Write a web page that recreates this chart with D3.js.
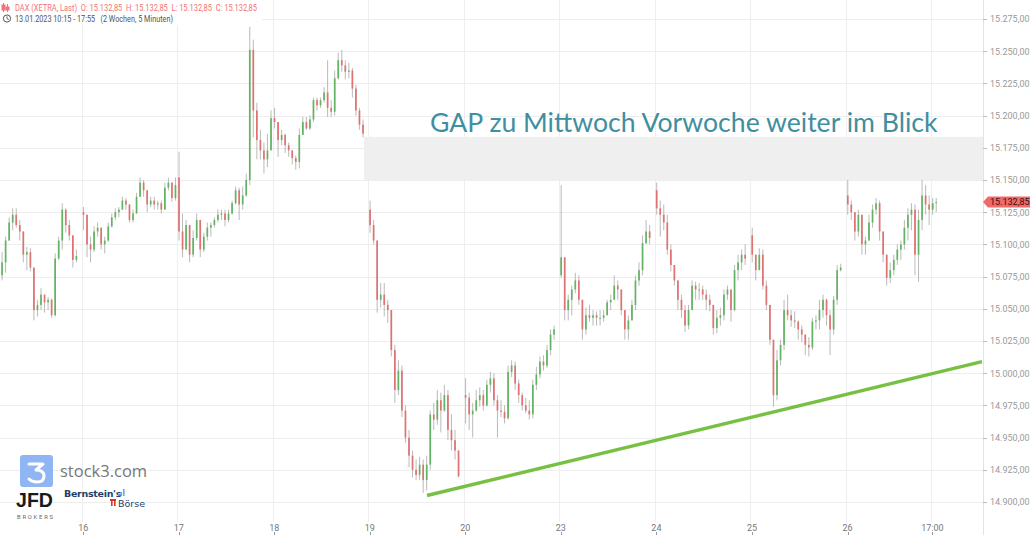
<!DOCTYPE html>
<html><head><meta charset="utf-8">
<script src="https://cdn.jsdelivr.net/npm/d3@7"></script>
<style>
html,body{margin:0;padding:0;background:#fff;overflow:hidden;}
svg{display:block;font-family:Roboto,"Liberation Sans",Arial,sans-serif;}
</style></head><body>
<svg id="c" width="1030" height="535"></svg>
<script>
// ---------- DATA (20-minute candles) ----------
const days = ["13","16","17","18","19","20","23","24","25","26"];
const firstSlot = [4,0,0,0,0,0,0,0,0,0];
const dayOpen = [15076,15125,15152,15198,15127,14983,15076,15142,15107,15138];
const highs = [
 [15094,15106,15121,15128,15128,15119,15103,15098,15097,15082,15057,15066,15061,15059,15058,15093,15106,15132,15128,15119,15107,15096],
 [15129,15123,15106,15114,15117,15113,15106,15117,15124,15128,15129,15137,15136,15131,15127,15140,15152,15150,15142,15137,15137,15134,15134,15148,15152,15148,15152],
 [15172,15124,15119,15115,15111,15124,15119,15109,15117,15117,15121,15127,15127,15127,15127,15134,15145,15144,15145,15155,15269,15259,15210,15189,15179,15186,15204],
 [15206,15195,15189,15186,15179,15173,15169,15190,15199,15199,15200,15214,15214,15214,15222,15243,15212,15235,15249,15251,15243,15241,15237,15224,15206,15197],
 [15134,15119,15103,15070,15070,15057,15049,15022,15010,15006,14975,14956,14940,14933,14935,14933,14936,14971,14977,14987,14985,14991,14987,14968,14956,14940],
 [14996,14985,14977,14987,14989,14987,14995,15001,15000,14983,14979,14975,15006,15010,15009,14995,14985,14981,14979,14995,15005,15013,15014,15022,15034,15037],
 [15146,15090,15061,15068,15078,15076,15057,15051,15053,15049,15048,15049,15049,15057,15061,15076,15072,15065,15049,15045,15057,15076,15086,15107,15119,15115],
 [15148,15134,15131,15123,15100,15084,15072,15061,15053,15053,15072,15071,15070,15068,15065,15061,15053,15049,15051,15065,15068,15061,15084,15092,15096,15100],
 [15113,15089,15097,15096,15072,15049,15026,15018,15026,15057,15061,15049,15048,15041,15037,15030,15028,15043,15045,15057,15061,15058,15049,15060,15084,15085],
 [15150,15134,15119,15127,15115,15106,15123,15131,15136,15134,15110,15088,15086,15092,15100,15103,15119,15128,15132,15131,15127,15150,15146,15138,15136,15136]
];
const lows = [
 [15072,15078,15103,15111,15113,15103,15086,15080,15079,15041,15044,15049,15047,15049,15043,15044,15088,15096,15109,15103,15082,15086],
 [15111,15090,15086,15094,15106,15096,15093,15102,15113,15119,15121,15127,15127,15117,15117,15124,15137,15137,15125,15129,15127,15127,15124,15127,15142,15133,15134],
 [15103,15090,15096,15086,15090,15103,15090,15094,15103,15106,15113,15117,15119,15114,15117,15123,15131,15119,15127,15137,15146,15183,15166,15166,15155,15160,15173],
 [15190,15168,15177,15171,15168,15162,15158,15159,15185,15189,15189,15195,15204,15206,15210,15199,15199,15200,15228,15234,15228,15229,15214,15200,15189,15183],
 [15109,15100,15047,15051,15044,15039,15013,14977,14983,14966,14946,14927,14919,14917,14917,14907,14909,14925,14956,14960,14954,14970,14948,14940,14933,14919],
 [14961,14956,14950,14970,14974,14971,14974,14985,14975,14950,14966,14961,14964,14997,14987,14977,14971,14969,14964,14965,14987,14996,15002,15004,15014,15026],
 [15074,15041,15041,15045,15062,15053,15026,15030,15040,15037,15037,15037,15040,15045,15049,15057,15057,15045,15026,15026,15041,15049,15068,15076,15100,15100],
 [15123,15106,15111,15092,15079,15068,15049,15043,15032,15034,15057,15057,15057,15057,15049,15048,15030,15031,15037,15041,15057,15040,15048,15072,15080,15084],
 [15086,15072,15084,15065,15049,15022,14974,14979,15006,15018,15041,15036,15035,15026,15024,15014,15013,15018,15034,15034,15043,15037,15014,15030,15053,15079],
 [15123,15119,15103,15106,15092,15092,15103,15113,15123,15103,15086,15068,15070,15076,15084,15088,15096,15103,15111,15076,15071,15111,15123,15115,15123,15125]
];
const closes = [
 [15086,15103,15117,15123,15115,15110,15092,15094,15082,15049,15053,15061,15055,15057,15045,15089,15103,15127,15115,15107,15088,15091],
 [15123,15100,15096,15110,15113,15100,15103,15114,15121,15125,15127,15134,15131,15119,15124,15137,15148,15142,15131,15134,15131,15132,15127,15144,15148,15136,15146],
 [15110,15096,15115,15092,15105,15119,15096,15106,15113,15115,15119,15123,15124,15119,15124,15132,15142,15131,15138,15150,15251,15204,15181,15173,15166,15173,15198],
 [15195,15181,15185,15177,15173,15167,15164,15185,15195,15190,15197,15212,15208,15212,15218,15206,15203,15229,15243,15239,15234,15235,15221,15204,15193,15186],
 [15115,15103,15057,15061,15053,15049,15018,14987,15002,14971,14950,14936,14925,14921,14929,14917,14929,14968,14964,14979,14971,14983,14956,14948,14940,14920],
 [14981,14968,14971,14979,14983,14975,14991,14996,14979,14971,14970,14965,15001,15006,14992,14983,14975,14971,14968,14991,14999,15009,15006,15018,15030,15034],
 [15090,15049,15057,15065,15072,15057,15034,15045,15043,15045,15043,15043,15045,15055,15057,15068,15065,15049,15034,15041,15053,15072,15080,15101,15110,15105],
 [15128,15123,15117,15096,15084,15072,15057,15049,15037,15049,15068,15065,15065,15061,15057,15053,15035,15043,15045,15061,15065,15049,15080,15086,15092,15089],
 [15092,15080,15092,15068,15053,15026,14983,15010,15022,15049,15045,15041,15040,15034,15030,15022,15020,15040,15041,15049,15057,15045,15034,15057,15080,15082],
 [15131,15125,15110,15123,15100,15103,15117,15127,15132,15110,15092,15074,15080,15088,15096,15100,15113,15123,15127,15092,15119,15138,15131,15127,15132,15132.85]
];
const yTickValues = [14900,14925,14950,14975,15000,15025,15050,15075,15100,15125,15150,15175,15200,15225,15250,15275];
const xTickLabels = ["16","17","18","19","20","23","24","25","26","17:00"];
const xTickDays   = [1,2,3,4,5,6,7,8,9,9];
const xTickMinute = [0,0,0,0,0,0,0,0,0,480];
const lastPrice = 15132.85;
const gapTop = 15183.5, gapBottom = 15150, gapStart = 3.955;
const trendU = [4.614, 10.423];
const trendP = [14905, 15009];
const headerLine1 = "DAX (XETRA, Last)  O: 15.132,85  H: 15.132,85  L: 15.132,85  C: 15.132,85";
const headerLine2 = "13.01.2023 10:15 - 17:55   (2 Wochen, 5 Minuten)";
const annotation = "GAP zu Mittwoch Vorwoche weiter im Blick";

// ---------- SETUP ----------
const SESSION = 540, BARMIN = 20;
const svg = d3.select("#c");
const axisX = 983;
const y = d3.scaleLinear().domain([14900,15275]).range([502,19]);
const x = d3.scaleLinear().domain([1,9]).range([81.7,846]);
const de = d3.formatLocale({decimal:",",thousands:".",grouping:[3],currency:["","€"]});
const fmt = de.format(",.2f");

// grid
const grid = svg.append("g");
grid.selectAll("line.h").data(yTickValues).join("line")
  .attr("x1",0).attr("x2",axisX).attr("y1",d=>Math.round(y(d))+0.5).attr("y2",d=>Math.round(y(d))+0.5)
  .attr("stroke","#eeeeee").attr("stroke-width",1);
grid.selectAll("line.v").data(xTickDays.map((d,i)=>d+xTickMinute[i]/SESSION)).join("line")
  .attr("x1",d=>Math.round(x(d))+0.5).attr("x2",d=>Math.round(x(d))+0.5).attr("y1",0).attr("y2",522)
  .attr("stroke","#eeeeee").attr("stroke-width",1);

// gap box
svg.append("rect").attr("x",x(gapStart)).attr("y",y(gapTop))
  .attr("width",axisX-x(gapStart)).attr("height",y(gapBottom)-y(gapTop))
  .attr("fill","#efefef");

// candles
const candles = [];
days.forEach((d,di)=>{
  let prev = dayOpen[di];
  closes[di].forEach((c,k)=>{
    const slot = firstSlot[di]+k;
    const o = prev;
    const h = Math.max(highs[di][k],o,c), l = Math.min(lows[di][k],o,c);
    candles.push({u: di + (slot*BARMIN + BARMIN/2)/SESSION, o, h, l, c});
    prev = c;
  });
});
const cg = svg.append("g");
cg.selectAll("line").data(candles).join("line")
  .attr("x1",d=>x(d.u)).attr("x2",d=>x(d.u)).attr("y1",d=>y(d.h)).attr("y2",d=>y(d.l))
  .attr("stroke","rgba(140,140,140,0.6)").attr("stroke-width",1);
cg.selectAll("rect").data(candles).join("rect")
  .attr("x",d=>x(d.u)-0.85).attr("width",1.7)
  .attr("y",d=>y(Math.max(d.o,d.c))).attr("height",d=>Math.max(1,Math.abs(y(d.o)-y(d.c))))
  .attr("fill",d=>d.c>=d.o?"#62b462":"#e07272");

// trendline
svg.append("line").attr("x1",x(trendU[0])).attr("y1",y(trendP[0]))
  .attr("x2",x(trendU[1])).attr("y2",y(trendP[1]))
  .attr("stroke","#78c044").attr("stroke-width",3.5).attr("stroke-linecap","butt");

// annotation
const ann = svg.append("text").attr("x",430).attr("y",132)
  .attr("font-family","Lato, 'Open Sans', sans-serif").attr("font-size",28)
  .attr("fill","#3f8fa0").text(annotation);
const L = ann.node().getComputedTextLength();
ann.attr("font-size", 28*508/L);

// right axis
svg.append("line").attr("x1",axisX+0.5).attr("x2",axisX+0.5).attr("y1",0).attr("y2",535).attr("stroke","#e3e3e3");
const ya = svg.append("g");
ya.selectAll("line").data(yTickValues).join("line")
  .attr("x1",axisX).attr("x2",axisX+4).attr("y1",d=>Math.round(y(d))+0.5).attr("y2",d=>Math.round(y(d))+0.5)
  .attr("stroke","#bbb");
ya.selectAll("text").data(yTickValues).join("text")
  .attr("x",990).attr("y",d=>y(d)+3.3).attr("font-size",9).attr("fill","#9a9a9a").text(d=>fmt(d));

// x axis labels
const xa = svg.append("g");
xa.selectAll("text").data(xTickLabels).join("text")
  .attr("x",(d,i)=>x(xTickDays[i]+xTickMinute[i]/SESSION)+1.5).attr("y",531)
  .attr("text-anchor","middle").attr("font-size",9).attr("fill","#777").text(d=>d);
xa.selectAll("line").data(xTickLabels).join("line")
  .attr("x1",(d,i)=>Math.round(x(xTickDays[i]+xTickMinute[i]/SESSION)+1.5)+0.5)
  .attr("x2",(d,i)=>Math.round(x(xTickDays[i]+xTickMinute[i]/SESSION)+1.5)+0.5)
  .attr("y1",532).attr("y2",535).attr("stroke","#999");

// price tag
const py = y(lastPrice);
svg.append("path").attr("d",`M${axisX},${py} L${axisX+5},${py-5.5} L1030,${py-5.5} L1030,${py+5.5} L${axisX+5},${py+5.5} Z`)
  .attr("fill","#ef6a6a");
svg.append("text").attr("x",990).attr("y",py+3.3).attr("font-size",9).attr("fill","#3a1010").text(fmt(lastPrice));

// header
const hd = svg.append("g");
hd.append("rect").attr("x",0).attr("y",1).attr("width",262).attr("height",24).attr("fill","#fff");
const ic = hd.append("g").attr("stroke","#f07474").attr("fill","#f07474");
ic.append("line").attr("x1",3.5).attr("x2",3.5).attr("y1",3).attr("y2",12);
ic.append("rect").attr("x",2).attr("y",5).attr("width",3).attr("height",5);
ic.append("line").attr("x1",7.5).attr("x2",7.5).attr("y1",4).attr("y2",12);
ic.append("rect").attr("x",6).attr("y",7).attr("width",3).attr("height",3);
hd.append("text").attr("x",15).attr("y",11).attr("font-size",8.4).attr("fill","#f07474")
  .attr("xml:space","preserve").attr("textLength",242).attr("lengthAdjust","spacingAndGlyphs").text(headerLine1);
hd.append("circle").attr("cx",7).attr("cy",18.5).attr("r",3.6).attr("fill","none").attr("stroke","#555").attr("stroke-width",1);
hd.append("path").attr("d","M7,16.3 L7,18.7 L8.8,19.6").attr("fill","none").attr("stroke","#555").attr("stroke-width",0.9);
hd.append("text").attr("x",15).attr("y",21.5).attr("font-size",8.4).attr("fill","#555")
  .attr("xml:space","preserve").attr("textLength",158).attr("lengthAdjust","spacingAndGlyphs").text(headerLine2);

// logos
const lg = svg.append("g");
lg.append("rect").attr("x",20).attr("y",455).attr("width",33).attr("height",32).attr("rx",3).attr("fill","#8fb6f3");
lg.append("path").attr("d","M29,464 L43,464 L36,470 Q44,470 44,476 Q44,482 37,482 Q32,482 29,479")
  .attr("fill","none").attr("stroke","#fff").attr("stroke-width",3).attr("stroke-linecap","round").attr("stroke-linejoin","round");
lg.append("text").attr("x",60).attr("y",477).attr("font-size",16.5).attr("fill","#777").attr("font-family","'Open Sans',Roboto,sans-serif").text("stock3.com");
lg.append("text").attr("x",16).attr("y",507).attr("font-size",20).attr("font-weight",700).attr("fill","#1a1a1a")
  .attr("textLength",37).attr("lengthAdjust","spacingAndGlyphs").attr("font-family","'Liberation Sans',Arial,sans-serif").text("JFD");
lg.append("text").attr("x",17).attr("y",518.5).attr("font-size",5.8).attr("fill","#666")
  .attr("textLength",36).attr("lengthAdjust","spacing").text("BROKERS");
lg.append("text").attr("x",64).attr("y",497).attr("font-size",9.5).attr("font-weight",700).attr("fill","#233f6b").attr("font-family","'DejaVu Sans',sans-serif").attr("letter-spacing",-0.3).text("Bernstein's");
[[118,494,2],[120.5,492,4],[123,489,7]].forEach(b=>lg.append("rect").attr("x",b[0]).attr("y",b[1]).attr("width",1.6).attr("height",b[2]).attr("fill","#6aa8e8"));
lg.append("rect").attr("x",110).attr("y",499).attr("width",6).attr("height",2).attr("fill","#d9362b");
lg.append("rect").attr("x",111).attr("y",500).attr("width",1.6).attr("height",6).attr("fill","#d9362b");
lg.append("rect").attr("x",114).attr("y",500).attr("width",1.6).attr("height",6).attr("fill","#d9362b");
lg.append("text").attr("x",118).attr("y",506.5).attr("font-size",9.5).attr("fill","#233f6b").attr("font-family","'DejaVu Sans',sans-serif").text("Börse");
</script>
</body></html>
